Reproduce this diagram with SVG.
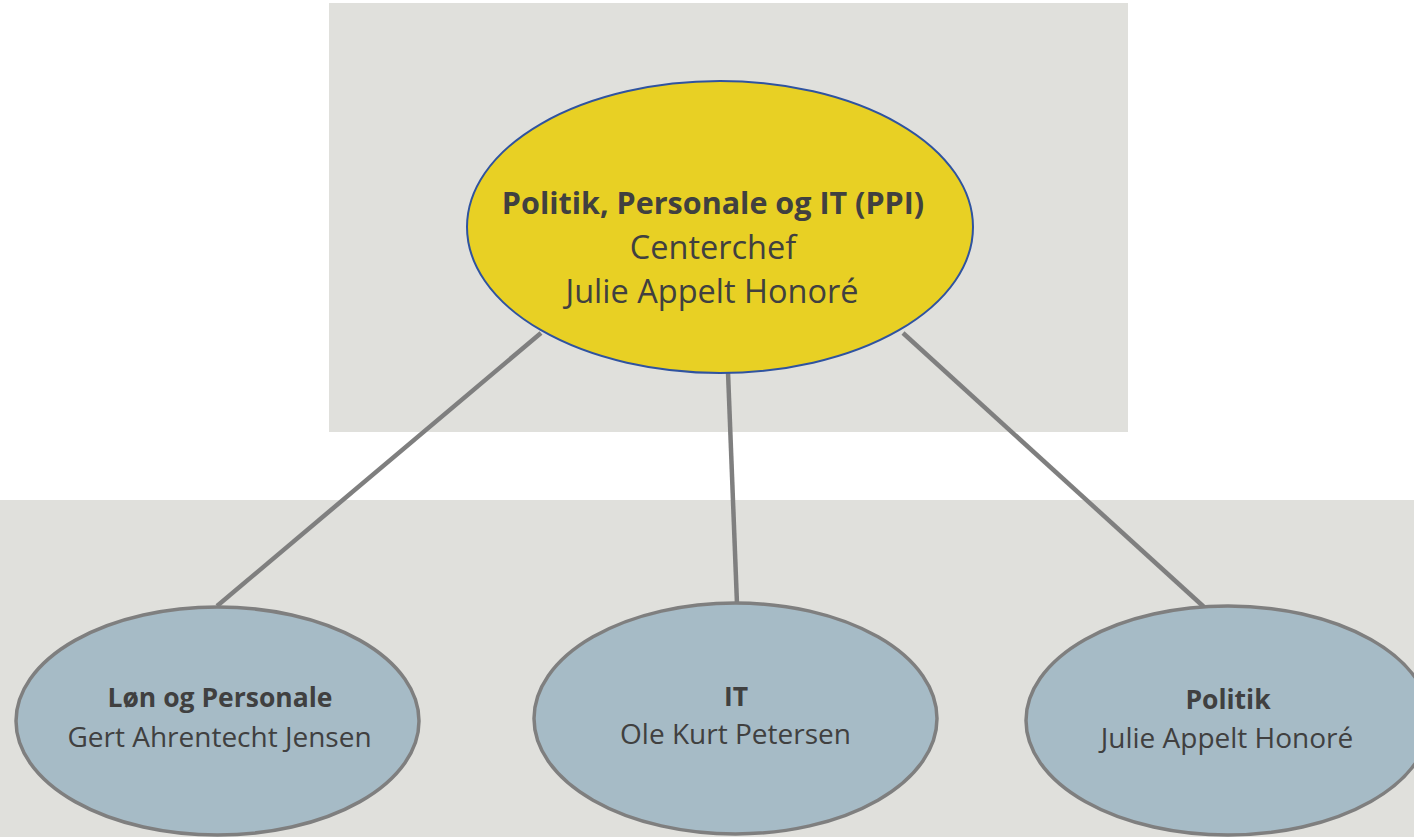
<svg xmlns="http://www.w3.org/2000/svg" width="1414" height="837" viewBox="0 0 1414 837">
<style>
.bg{fill:#E0E0DC}
.sub{fill:#A6BBC6;stroke:#7F7F7F;stroke-width:3.5}
.top{fill:#E8D024;stroke:#2F53A0;stroke-width:2}
.conn line{stroke:#7F7F7F;stroke-width:4.5}
text{font-family:"Open Sans","Liberation Sans",sans-serif;fill:#404040;text-anchor:middle}
.b{font-weight:bold}
.tb{font-size:30.5px}
.t{font-size:32.5px}
.sb{font-size:26.5px}
.s{font-size:28px}
</style>
<rect width="1414" height="837" fill="#FFFFFF"/>
<rect class="bg" x="329" y="3" width="799" height="429"/>
<rect class="bg" x="0" y="500" width="1414" height="337"/>
<g id="connectors" class="conn">
<line x1="541" y1="333" x2="217" y2="606"/>
<line x1="728" y1="372" x2="737" y2="604"/>
<line x1="903" y1="333" x2="1204" y2="607"/>
</g>
<g id="node-ppi">
<ellipse class="top" cx="720" cy="227" rx="253" ry="146"/>
<text class="tb b" x="713" y="214">Politik, Personale og IT (PPI)</text>
<text class="t" x="713" y="259">Centerchef</text>
<text class="t" x="712" y="303">Julie Appelt Honoré</text>
</g>
<g id="node-lon">
<ellipse class="sub" cx="217.5" cy="721" rx="201.5" ry="114"/>
<text class="sb b" x="220" y="707">Løn og Personale</text>
<text class="s" x="219.5" y="747">Gert Ahrentecht Jensen</text>
</g>
<g id="node-it">
<ellipse class="sub" cx="735.5" cy="718.5" rx="201.5" ry="115.5"/>
<text class="sb b" x="736" y="706">IT</text>
<text class="s" x="735.5" y="744">Ole Kurt Petersen</text>
</g>
<g id="node-politik">
<ellipse class="sub" cx="1228" cy="720.5" rx="202" ry="114.5"/>
<text class="sb b" x="1228" y="709">Politik</text>
<text class="s" x="1227" y="748">Julie Appelt Honoré</text>
</g>
</svg>
